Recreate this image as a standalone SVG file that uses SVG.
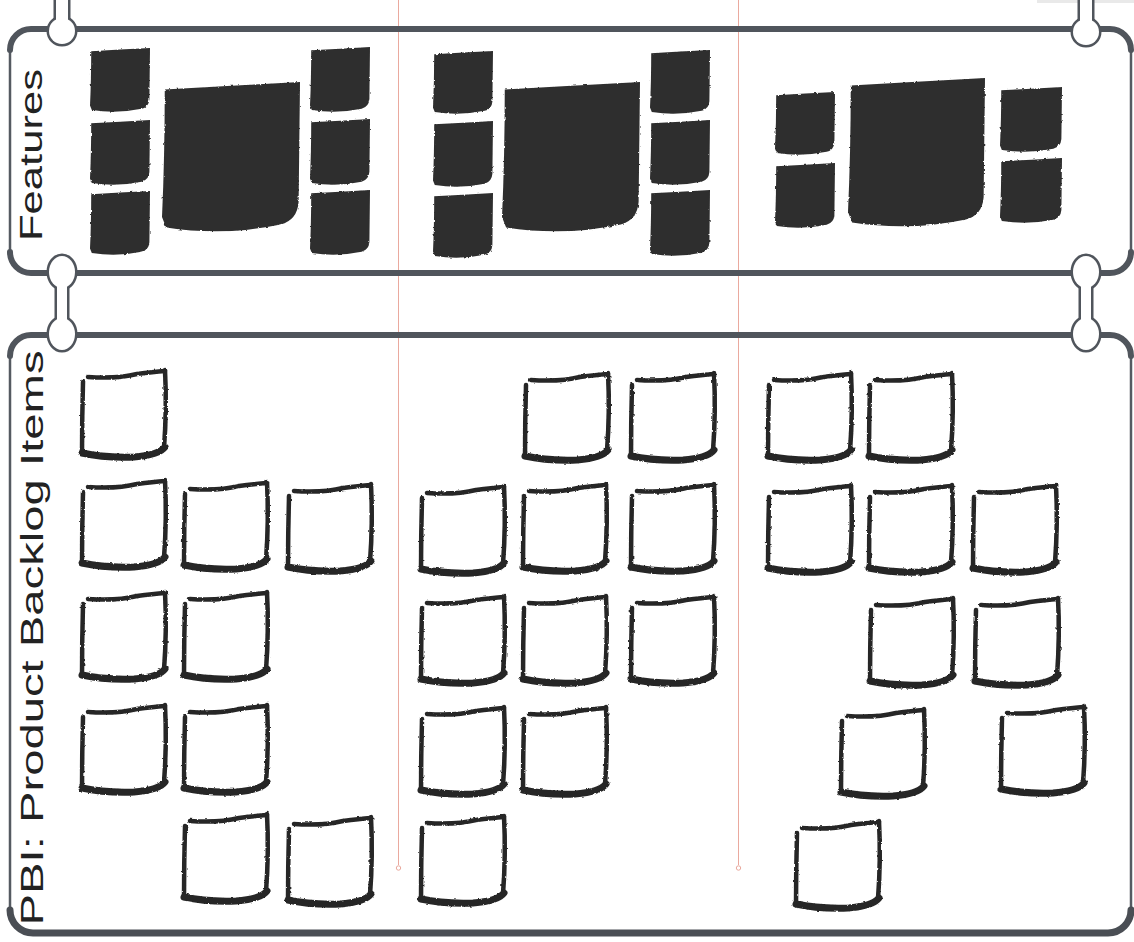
<svg xmlns="http://www.w3.org/2000/svg" xmlns:xlink="http://www.w3.org/1999/xlink" width="1134" height="942" viewBox="0 0 1134 942">
<style>
.frame{fill:none;stroke:#555a61;stroke-width:2.5}
.edge{fill:none;stroke:#50555c;stroke-width:6;stroke-linecap:round}
.knobS{fill:none;stroke:#50555c;stroke-width:5}
.knobF{fill:#fff;stroke:none}
.blk{fill:#2e2e2e}
.pbi .t{fill:none;stroke:#262626;stroke-width:4.5;stroke-linecap:round}
.pbi .b{fill:none;stroke:#262626;stroke-width:7;stroke-linecap:round}
.div{stroke:#eaa99e;stroke-width:1;fill:none}
.lbl{font-family:"Liberation Sans","DejaVu Sans",sans-serif;fill:#222;text-anchor:middle}
</style>
<defs>
<path id="blk" d="M0.02,0.05 Q0.5,0.025 1,0 L0.99,0.8 Q0.98,0.92 0.86,0.95 Q0.45,1.03 0.03,0.97 L0,0.9 Q0.02,0.5 0.02,0.05 Z"/>
<g id="box" class="pbi">
<path class="t" d="M9,8 Q38,10 58,5 Q74,3 86,2"/>
<path class="t" d="M86,1 Q88,40 85,79"/>
<path class="b" d="M86,78 Q80,86 55,88 Q25,89 3,84"/>
<path class="t" d="M4,13 Q3,50 3,85"/>
</g>
<filter id="rough" x="-2%" y="-2%" width="104%" height="104%">
<feTurbulence type="fractalNoise" baseFrequency="0.3" numOctaves="2" seed="4"/>
<feDisplacementMap in="SourceGraphic" scale="2.5" xChannelSelector="R" yChannelSelector="G"/>
</filter>
</defs>
<rect width="1134" height="942" fill="#fff"/>
<rect x="1037" y="0" width="97" height="3" fill="#e9e9e9"/>

<g id="dividers">
<line class="div" x1="398.5" y1="0" x2="398.5" y2="865"/>
<circle class="div" cx="398.5" cy="868" r="2.2"/>
<line class="div" x1="738.5" y1="0" x2="738.5" y2="865"/>
<circle class="div" cx="738.5" cy="868" r="2.2"/>
</g>

<g id="features-panel">
<rect class="frame" x="10" y="29" width="1121" height="244" rx="21"/>
<path class="edge" d="M10,50 A21,21 0 0 1 31,29 L1110,29 A21,21 0 0 1 1131,50"/>
<path class="edge" d="M10,252 A21,21 0 0 0 31,273 L1110,273 A21,21 0 0 0 1131,252"/>
<text class="lbl" font-size="32" transform="translate(42,155) rotate(-90)" textLength="172" lengthAdjust="spacingAndGlyphs">Features</text>
</g>

<g id="pbi-panel">
<rect class="frame" x="10" y="335" width="1121" height="598" rx="22"/>
<path class="edge" d="M10,356 A21,21 0 0 1 31,335 L1110,335 A21,21 0 0 1 1131,356"/>
<path class="edge" style="stroke:#4a4e54;stroke-width:7" d="M10,910 A23,23 0 0 0 33,933 L1108,933 A23,23 0 0 0 1131,910"/>
<text class="lbl" font-size="32" transform="translate(43,638) rotate(-90)" textLength="575" lengthAdjust="spacingAndGlyphs">PBI: Product Backlog Items</text>
</g>

<g id="feature-blocks" filter="url(#rough)">
<g id="feat-col1">
<use class="blk" xlink:href="#blk" href="#blk" transform="translate(90,48) scale(60,64)"/>
<use class="blk" xlink:href="#blk" href="#blk" transform="translate(90,120) scale(60,65)"/>
<use class="blk" xlink:href="#blk" href="#blk" transform="translate(90,191) scale(60,64)"/>
<use class="blk" xlink:href="#blk" href="#blk" transform="translate(162,82) scale(138,150)"/>
<use class="blk" xlink:href="#blk" href="#blk" transform="translate(310,47) scale(60,65)"/>
<use class="blk" xlink:href="#blk" href="#blk" transform="translate(310,119) scale(60,66)"/>
<use class="blk" xlink:href="#blk" href="#blk" transform="translate(310,190) scale(60,65)"/>
</g>
<g id="feat-col2">
<use class="blk" xlink:href="#blk" href="#blk" transform="translate(433,51) scale(60,63)"/>
<use class="blk" xlink:href="#blk" href="#blk" transform="translate(433,121) scale(60,66)"/>
<use class="blk" xlink:href="#blk" href="#blk" transform="translate(433,193) scale(60,65)"/>
<use class="blk" xlink:href="#blk" href="#blk" transform="translate(502,82) scale(138,150)"/>
<use class="blk" xlink:href="#blk" href="#blk" transform="translate(650,50) scale(60,64)"/>
<use class="blk" xlink:href="#blk" href="#blk" transform="translate(650,120) scale(60,65)"/>
<use class="blk" xlink:href="#blk" href="#blk" transform="translate(650,190) scale(60,66)"/>
</g>
<g id="feat-col3">
<use class="blk" xlink:href="#blk" href="#blk" transform="translate(775,92) scale(60,63)"/>
<use class="blk" xlink:href="#blk" href="#blk" transform="translate(775,163) scale(60,65)"/>
<use class="blk" xlink:href="#blk" href="#blk" transform="translate(848,78) scale(137,149)"/>
<use class="blk" xlink:href="#blk" href="#blk" transform="translate(1000,87) scale(62,65)"/>
<use class="blk" xlink:href="#blk" href="#blk" transform="translate(1000,158) scale(62,65)"/>
</g>
</g>

<g id="pbi-items" filter="url(#rough)">
<g id="pbi-col1">
<use xlink:href="#box" href="#box" x="79" y="369"/>
<use xlink:href="#box" href="#box" x="79" y="479"/>
<use xlink:href="#box" href="#box" x="181" y="481"/>
<use xlink:href="#box" href="#box" x="285" y="483"/>
<use xlink:href="#box" href="#box" x="79" y="591"/>
<use xlink:href="#box" href="#box" x="181" y="591"/>
<use xlink:href="#box" href="#box" x="79" y="704"/>
<use xlink:href="#box" href="#box" x="181" y="704"/>
<use xlink:href="#box" href="#box" x="181" y="813"/>
<use xlink:href="#box" href="#box" x="285" y="816"/>
</g>
<g id="pbi-col2">
<use xlink:href="#box" href="#box" x="522" y="372"/>
<use xlink:href="#box" href="#box" x="628" y="372"/>
<use xlink:href="#box" href="#box" x="418" y="485"/>
<use xlink:href="#box" href="#box" x="520" y="483"/>
<use xlink:href="#box" href="#box" x="628" y="483"/>
<use xlink:href="#box" href="#box" x="418" y="595"/>
<use xlink:href="#box" href="#box" x="520" y="595"/>
<use xlink:href="#box" href="#box" x="628" y="595"/>
<use xlink:href="#box" href="#box" x="418" y="706"/>
<use xlink:href="#box" href="#box" x="520" y="706"/>
<use xlink:href="#box" href="#box" x="418" y="815"/>
</g>
<g id="pbi-col3">
<use xlink:href="#box" href="#box" x="765" y="372"/>
<use xlink:href="#box" href="#box" x="866" y="372"/>
<use xlink:href="#box" href="#box" x="765" y="484"/>
<use xlink:href="#box" href="#box" x="866" y="484"/>
<use xlink:href="#box" href="#box" x="970" y="484"/>
<use xlink:href="#box" href="#box" x="867" y="597"/>
<use xlink:href="#box" href="#box" x="972" y="597"/>
<use xlink:href="#box" href="#box" x="838" y="708"/>
<use xlink:href="#box" href="#box" x="998" y="705"/>
<use xlink:href="#box" href="#box" x="793" y="820"/>
</g>
</g>

<g id="connectors">
<g class="knobS">
<circle cx="62" cy="31" r="13"/><rect x="56" y="-6" width="12" height="28"/>
<circle cx="1086" cy="32" r="13"/><rect x="1080" y="-6" width="12" height="28"/>
<ellipse cx="62" cy="272" rx="13" ry="16"/><ellipse cx="62" cy="334" rx="13" ry="16"/><rect x="57" y="282" width="10" height="42"/>
<ellipse cx="1086" cy="272" rx="13" ry="16"/><ellipse cx="1086" cy="334" rx="13" ry="16"/><rect x="1081" y="282" width="10" height="42"/>
</g>
<g class="knobF">
<circle cx="62" cy="31" r="13"/><rect x="56" y="-6" width="12" height="28"/>
<circle cx="1086" cy="32" r="13"/><rect x="1080" y="-6" width="12" height="28"/>
<ellipse cx="62" cy="272" rx="13" ry="16"/><ellipse cx="62" cy="334" rx="13" ry="16"/><rect x="57" y="282" width="10" height="42"/>
<ellipse cx="1086" cy="272" rx="13" ry="16"/><ellipse cx="1086" cy="334" rx="13" ry="16"/><rect x="1081" y="282" width="10" height="42"/>
</g>
</g>
</svg>
